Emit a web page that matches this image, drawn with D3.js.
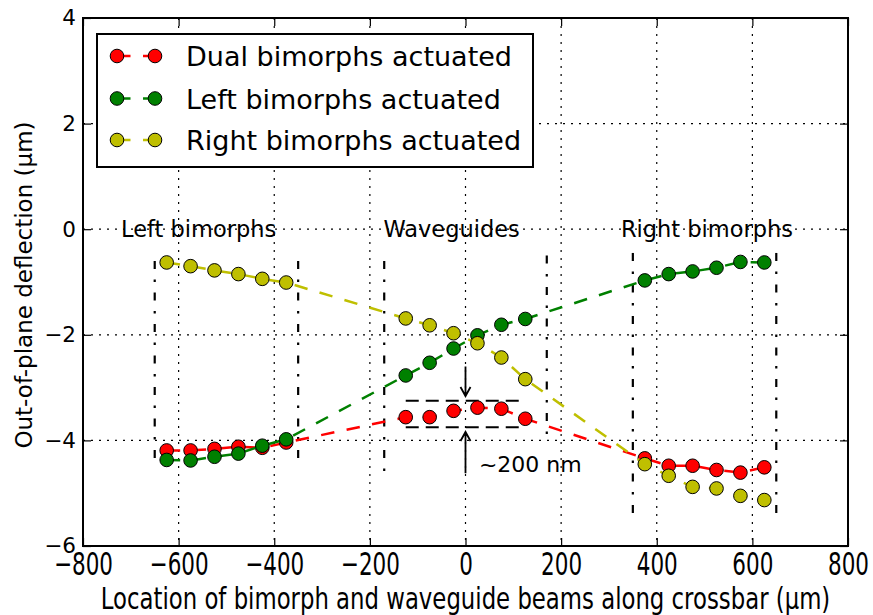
<!DOCTYPE html>
<html>
<head>
<meta charset="utf-8">
<script src="https://cdn.jsdelivr.net/npm/d3@7"></script>
<style>
  body { margin: 0; background: #fff; }
  text { font-family: "DejaVu Sans", sans-serif; fill: #000; }
</style>
</head>
<body>
<script>
// chart size
var width = 873;
var height = 615;

// data
var xPos = [-625, -575, -525, -475, -425, -375, -125, -75, -25, 25, 75, 125, 375, 425, 475, 525, 575, 625];
var dualVals = [-4.19, -4.19, -4.16, -4.12, -4.14, -4.04, -3.56, -3.56, -3.44, -3.38, -3.40, -3.59, -4.34, -4.48, -4.48, -4.56, -4.61, -4.51];
var leftVals = [-4.37, -4.38, -4.31, -4.25, -4.10, -3.98, -2.77, -2.53, -2.26, -2.01, -1.81, -1.70, -0.97, -0.85, -0.80, -0.73, -0.62, -0.63];
var rightVals = [-0.63, -0.70, -0.78, -0.85, -0.94, -1.01, -1.69, -1.82, -1.97, -2.16, -2.43, -2.84, -4.45, -4.67, -4.88, -4.91, -5.05, -5.13];
var seriesNames = ['Dual bimorphs actuated', 'Left bimorphs actuated', 'Right bimorphs actuated'];
var seriesColors = ['#ff0000', '#008000', '#bfbf00'];
var xTicks = [-800, -600, -400, -200, 0, 200, 400, 600, 800];
var yTicks = [-6, -4, -2, 0, 2, 4];
// region markers (x, y from, y to)
var regionLines = [[-650, -0.6, -4.5], [-350, -0.6, -4.5], [-170, -0.6, -4.6], [170, -0.5, -4.0], [350, -0.45, -5.5], [650, -0.45, -5.5]];
var regionLabels = [['Left bimorphs', -558], ['Waveguides', -29], ['Right bimorphs', 505]];
var boxY = [-3.25, -3.75];
var boxX = [-125, 125];

var padding = { top: 18, right: 25, bottom: 69, left: 83 };

var svg = d3.select('body')
  .append('svg')
  .attr('width', width)
  .attr('height', height);

var xScale = d3.scaleLinear()
  .domain([-800, 800])
  .range([padding.left, width - padding.right]);

var yScale = d3.scaleLinear()
  .domain([-6, 4])
  .range([height - padding.bottom, padding.top]);

// grid
svg.append('g')
  .selectAll('line')
  .data(xTicks.slice(1, -1))
  .enter()
  .append('line')
  .attr('x1', function (d) { return xScale(d); })
  .attr('x2', function (d) { return xScale(d); })
  .attr('y1', yScale(4))
  .attr('y2', yScale(-6))
  .attr('stroke', '#000')
  .attr('stroke-width', 1.2)
  .attr('stroke-dasharray', '2,6');

svg.append('g')
  .selectAll('line')
  .data(yTicks.slice(1, -1))
  .enter()
  .append('line')
  .attr('x1', xScale(-800))
  .attr('x2', xScale(800))
  .attr('y1', function (d) { return yScale(d); })
  .attr('y2', function (d) { return yScale(d); })
  .attr('stroke', '#000')
  .attr('stroke-width', 1.2)
  .attr('stroke-dasharray', '2,6');

// axes, ticks inside on all four sides
var tickLen = 8;
var xAxis = d3.axisBottom(xScale).tickValues(xTicks).tickSizeInner(-tickLen).tickSizeOuter(0).tickPadding(12);
var yAxis = d3.axisLeft(yScale).tickValues(yTicks).tickSizeInner(-tickLen).tickSizeOuter(0).tickPadding(7);

var gx = svg.append('g')
  .attr('transform', 'translate(0,' + yScale(-6) + ')')
  .call(xAxis);
gx.selectAll('text')
  .attr('font-size', 21.5)
  .attr('font-family', 'DejaVu Sans')
  .attr('dy', null)
  .attr('y', 0)
  .attr('transform', 'translate(0,' + 29 + ') scale(1,1.5)');

var gy = svg.append('g')
  .attr('transform', 'translate(' + xScale(-800) + ',0)')
  .call(yAxis);
gy.selectAll('text')
  .attr('font-size', 21.5)
  .attr('font-family', 'DejaVu Sans');

svg.append('g')
  .attr('transform', 'translate(0,' + yScale(4) + ')')
  .call(d3.axisTop(xScale).tickValues(xTicks).tickSizeInner(-tickLen).tickSizeOuter(0).tickFormat(''));
svg.append('g')
  .attr('transform', 'translate(' + xScale(800) + ',0)')
  .call(d3.axisRight(yScale).tickValues(yTicks).tickSizeInner(-tickLen).tickSizeOuter(0).tickFormat(''));

svg.selectAll('.domain').remove();
svg.selectAll('.tick line').attr('stroke', '#000').attr('stroke-width', 1.2);

// region lines (dash-dot)
svg.append('g')
  .selectAll('line')
  .data(regionLines)
  .enter()
  .append('line')
  .attr('x1', function (d) { return xScale(d[0]); })
  .attr('x2', function (d) { return xScale(d[0]); })
  .attr('y1', function (d) { return yScale(d[1]); })
  .attr('y2', function (d) { return yScale(d[2]); })
  .attr('stroke', '#000')
  .attr('stroke-width', 2.2)
  .attr('stroke-dasharray', '8,10.5,2.5,10.5');

// dashed box round the waveguide points
svg.append('g')
  .selectAll('line')
  .data(boxY)
  .enter()
  .append('line')
  .attr('x1', xScale(boxX[0]))
  .attr('x2', xScale(boxX[1]))
  .attr('y1', function (d) { return yScale(d); })
  .attr('y2', function (d) { return yScale(d); })
  .attr('stroke', '#000')
  .attr('stroke-width', 2)
  .attr('stroke-dasharray', '13,7');

// series
var series = [dualVals, leftVals, rightVals];
var linePath = d3.line()
  .x(function (d, i) { return xScale(xPos[i]); })
  .y(function (d) { return yScale(d); });

series.forEach(function (vals, k) {
  var g = svg.append('g');
  g.append('path')
    .attr('d', linePath(vals))
    .attr('fill', 'none')
    .attr('stroke', seriesColors[k])
    .attr('stroke-width', 2.5)
    .attr('stroke-dasharray', '13.5,12.5');
  g.selectAll('circle')
    .data(vals)
    .enter()
    .append('circle')
    .attr('cx', function (d, i) { return xScale(xPos[i]); })
    .attr('cy', function (d) { return yScale(d); })
    .attr('r', 6.8)
    .attr('fill', seriesColors[k])
    .attr('stroke', '#000')
    .attr('stroke-width', 1);
});

// arrows
function arrow(x, y0, y1) {
  var px = xScale(x), a = yScale(y0), b = yScale(y1);
  var dir = b > a ? 1 : -1;
  svg.append('path')
    .attr('d', 'M' + px + ',' + a + 'L' + px + ',' + b +
      'M' + (px - 5) + ',' + (b - dir * 9) + 'L' + px + ',' + b + 'L' + (px + 5) + ',' + (b - dir * 9))
    .attr('fill', 'none')
    .attr('stroke', '#000')
    .attr('stroke-width', 1.8);
}
arrow(0, -2.6, -3.16);
arrow(0, -4.62, -3.84);

svg.append('text')
  .attr('x', xScale(28))
  .attr('y', yScale(-4.6))
  .attr('font-size', 22)
  .text('~200 nm');

// region labels
svg.append('g')
  .selectAll('text')
  .data(regionLabels)
  .enter()
  .append('text')
  .attr('x', function (d) { return xScale(d[1]); })
  .attr('y', yScale(0) + 7.5)
  .attr('text-anchor', 'middle')
  .attr('font-size', 22.5)
  .text(function (d) { return d[0]; });

// frame
svg.append('rect')
  .attr('x', xScale(-800))
  .attr('y', yScale(4))
  .attr('width', xScale(800) - xScale(-800))
  .attr('height', yScale(-6) - yScale(4))
  .attr('fill', 'none')
  .attr('stroke', '#000')
  .attr('stroke-width', 2);

// legend
var legend = svg.append('g');
legend.append('rect')
  .attr('x', 97)
  .attr('y', 34)
  .attr('width', 436)
  .attr('height', 133)
  .attr('fill', '#fff')
  .attr('stroke', '#000')
  .attr('stroke-width', 2);
var rowY = [56, 98.5, 140];
seriesNames.forEach(function (name, k) {
  legend.append('line')
    .attr('x1', 117).attr('x2', 155)
    .attr('y1', rowY[k]).attr('y2', rowY[k])
    .attr('stroke', seriesColors[k])
    .attr('stroke-width', 2.5)
    .attr('stroke-dasharray', '13.5,12.5');
  [117, 155].forEach(function (cx) {
    legend.append('circle')
      .attr('cx', cx).attr('cy', rowY[k]).attr('r', 6.8)
      .attr('fill', seriesColors[k])
      .attr('stroke', '#000')
      .attr('stroke-width', 1);
  });
  legend.append('text')
    .attr('x', 186)
    .attr('y', rowY[k] + 10)
    .attr('font-size', 27)
    .text(name);
});

// axis labels
svg.append('text')
  .attr('text-anchor', 'middle')
  .attr('transform', 'translate(' + ((xScale(-800) + xScale(800)) / 2) + ',609) scale(1,1.3)')
  .attr('font-size', 22.8)
  .text('Location of bimorph and waveguide beams along crossbar (\u00b5m)');

svg.append('text')
  .attr('text-anchor', 'middle')
  .attr('transform', 'translate(32,' + ((yScale(4) + yScale(-6)) / 2 + 3) + ') rotate(-90)')
  .attr('font-size', 23)
  .text('Out-of-plane deflection (\u00b5m)');
</script>
</body>
</html>
